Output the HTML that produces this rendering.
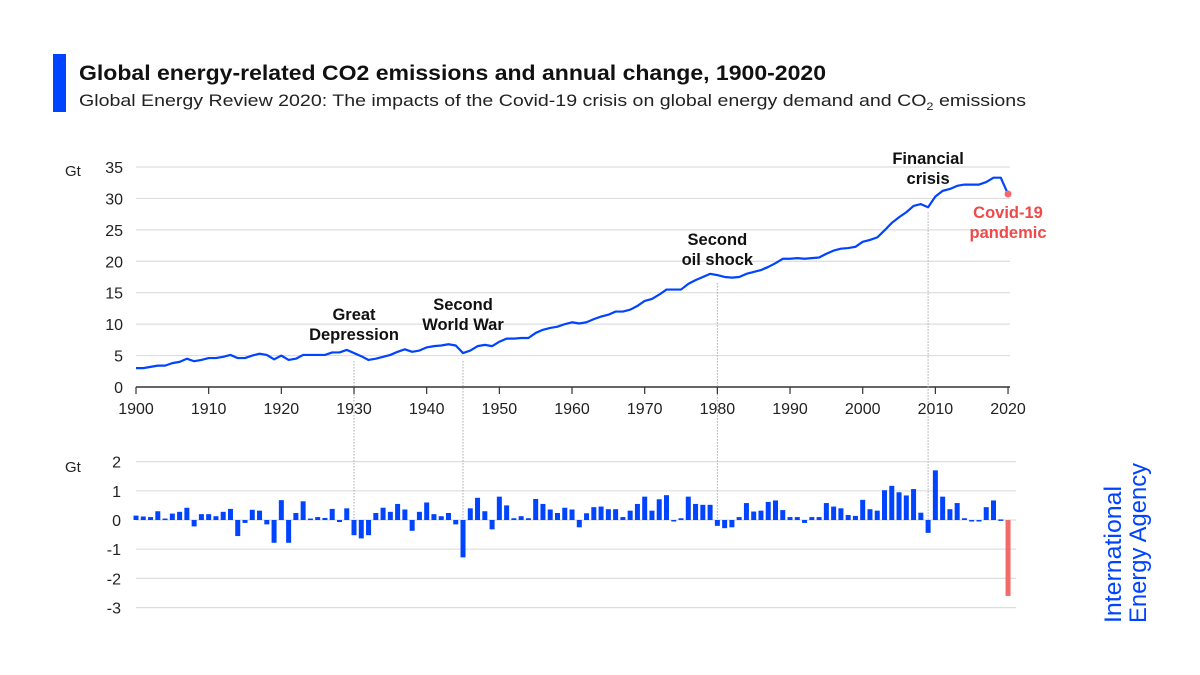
<!DOCTYPE html>
<html><head><meta charset="utf-8"><style>
body{margin:0;background:#fff;}
svg{display:block;font-family:"Liberation Sans",sans-serif;}
</style></head><body>
<svg id="chart" width="1200" height="675" viewBox="0 0 1200 675">
<rect x="53" y="54" width="13" height="58" fill="#0044ff"/>
<text x="79" y="80" font-size="21" font-weight="bold" fill="#111" textLength="747" lengthAdjust="spacingAndGlyphs">Global energy-related CO2 emissions and annual change, 1900-2020</text>
<text x="79" y="106" font-size="17" fill="#222" textLength="947" lengthAdjust="spacingAndGlyphs">Global Energy Review 2020: The impacts of the Covid-19 crisis on global energy demand and CO<tspan font-size="11" dy="4">2</tspan><tspan dy="-4"> emissions</tspan></text>
<text x="65" y="176" font-size="15" fill="#222">Gt</text>
<text x="65" y="472" font-size="15" fill="#222">Gt</text>
<g id="top-grid"></g><g id="bot-grid"></g><g id="annos"></g><g id="bars"></g><g id="line"></g><g id="xaxis"></g>
<g transform="translate(1121,623) rotate(-90)" fill="#0044ff" font-size="24">
<text x="0" y="0" textLength="137" lengthAdjust="spacingAndGlyphs">International</text>
<text x="0" y="25" textLength="160" lengthAdjust="spacingAndGlyphs">Energy Agency</text>
</g>
</svg>
<script>
const years=[];for(let y=1900;y<=2020;y++)years.push(y);
const emissions=[3.0,3.0,3.2,3.4,3.4,3.8,4.0,4.5,4.1,4.3,4.6,4.6,4.8,5.1,4.6,4.6,5.0,5.3,5.1,4.4,5.0,4.3,4.5,5.1,5.1,5.1,5.1,5.5,5.5,5.9,5.4,4.9,4.3,4.5,4.8,5.1,5.6,6.0,5.6,5.8,6.3,6.5,6.6,6.8,6.6,5.4,5.8,6.5,6.7,6.5,7.2,7.7,7.7,7.8,7.8,8.6,9.1,9.4,9.6,10.0,10.3,10.1,10.3,10.8,11.2,11.5,12.0,12.0,12.3,12.9,13.7,14.0,14.7,15.5,15.5,15.5,16.4,17.0,17.5,18.0,17.8,17.5,17.4,17.5,18.0,18.3,18.6,19.1,19.7,20.4,20.4,20.5,20.4,20.5,20.6,21.2,21.7,22.0,22.1,22.3,23.1,23.4,23.8,24.9,26.1,27.0,27.8,28.8,29.1,28.6,30.3,31.2,31.5,32.0,32.2,32.2,32.2,32.6,33.3,33.3,30.7];
const changes=[0.15,0.12,0.1,0.3,0.05,0.22,0.28,0.42,-0.22,0.2,0.2,0.13,0.28,0.38,-0.55,-0.1,0.35,0.32,-0.15,-0.78,0.68,-0.78,0.24,0.64,0.05,0.1,0.07,0.38,-0.07,0.4,-0.52,-0.63,-0.52,0.24,0.42,0.28,0.55,0.36,-0.37,0.28,0.6,0.2,0.13,0.24,-0.15,-1.28,0.4,0.76,0.3,-0.32,0.8,0.5,0.06,0.13,0.06,0.72,0.55,0.36,0.24,0.42,0.36,-0.25,0.23,0.44,0.46,0.37,0.37,0.1,0.32,0.55,0.8,0.32,0.71,0.85,-0.05,0.06,0.8,0.55,0.52,0.52,-0.2,-0.28,-0.25,0.1,0.58,0.29,0.32,0.62,0.67,0.34,0.1,0.1,-0.1,0.1,0.1,0.58,0.46,0.4,0.17,0.14,0.69,0.37,0.32,1.02,1.17,0.95,0.84,1.06,0.25,-0.44,1.7,0.8,0.37,0.58,0.06,-0.05,-0.05,0.44,0.67,0.02,-2.6];
const topTicks=[0,5,10,15,20,25,30,35];
const botTicks=[2,1,0,-1,-2,-3];
const xTicks=[1900,1910,1920,1930,1940,1950,1960,1970,1980,1990,2000,2010,2020];
const annoYears=[1930,1945,1980,2009];
const annoLabels=[["Great","Depression"],["Second","World War"],["Second","oil shock"],["Financial","crisis"]];
const NS="http://www.w3.org/2000/svg";
const X=y=>136+(y-1900)*7.267;
const YT=v=>387-v*6.286;
const YB=v=>520-v*29.2;
function mk(tag,attrs,parent,txt){const e=document.createElementNS(NS,tag);for(const k in attrs)e.setAttribute(k,attrs[k]);if(txt!==undefined)e.textContent=txt;document.getElementById(parent).appendChild(e);return e;}
topTicks.forEach(t=>{
 const l=mk('line',{x1:136,x2:1010,y1:YT(t),y2:YT(t),stroke:t===0?'#333':'#ddd','stroke-width':t===0?1.5:1.2},'top-grid');
 
 
 const tx=mk('text',{x:123,y:YT(t)+6,'font-size':16,'text-anchor':'end',fill:'#222'},'top-grid',t);
 
 
});
botTicks.forEach(t=>{
 const l=mk('line',{x1:136,x2:1016,y1:YB(t),y2:YB(t),stroke:'#ddd','stroke-width':1.2},'bot-grid');
 
 
 const tx=mk('text',{x:121,y:YB(t)+6,'font-size':16,'text-anchor':'end',fill:'#222'},'bot-grid',t);
 
 
});
xTicks.forEach(t=>{
 const l=mk('line',{x1:X(t),x2:X(t),y1:387,y2:394,stroke:'#333','stroke-width':1.2},'xaxis');
 
 
 const tx=mk('text',{x:X(t),y:414,'font-size':16,'text-anchor':'middle',fill:'#222'},'xaxis',t);
 
 
});
annoYears.forEach((yr,i)=>{
 const top2=i===3?YT(emissions[yr-1900])+5:YT(emissions[yr-1900])+8;
 const l=mk('line',{x1:X(yr),x2:X(yr),y1:top2,y2:522,stroke:'#aaa','stroke-width':1,'stroke-dasharray':'1.5,1.5'},'annos');
 
 
 const ly=[[320,340],[310,330],[245,265],[164,184]][i];
 annoLabels[i].forEach((s,j)=>{
  const tx=mk('text',{x:X(yr),y:ly[j],'font-size':16.5,'font-weight':'bold','text-anchor':'middle',fill:'#111'},'annos',s);
  
  
 });
});
changes.forEach((v,i)=>{
 const yr=years[i];
 const r=mk('rect',{x:X(yr)-2.5,y:Math.min(YB(v),YB(0)),width:5,height:Math.max(Math.abs(YB(v)-YB(0)),1.5),fill:yr===2020?'#f26b6b':'#0044ff'},'bars');
 
 
});
const pts=emissions.slice(0,120).map((v,i)=>X(years[i])+','+YT(v)).join(' ')+' '+X(2020)+','+YT(emissions[120]);
const pl=mk('polyline',{points:pts,fill:'none',stroke:'#0044ff','stroke-width':2.2,'stroke-linejoin':'round'},'line');


const dot=mk('circle',{cx:X(2020),cy:YT(emissions[120]),r:3.5,fill:'#f26b6b'},'line');


['Covid-19','pandemic'].forEach((s,j)=>{
 const tx=mk('text',{x:1008,y:218+j*20,'font-size':16.5,'font-weight':'bold','text-anchor':'middle',fill:'#ee4a4a'},'line',s);
 
 
});
</script>
</body></html>
